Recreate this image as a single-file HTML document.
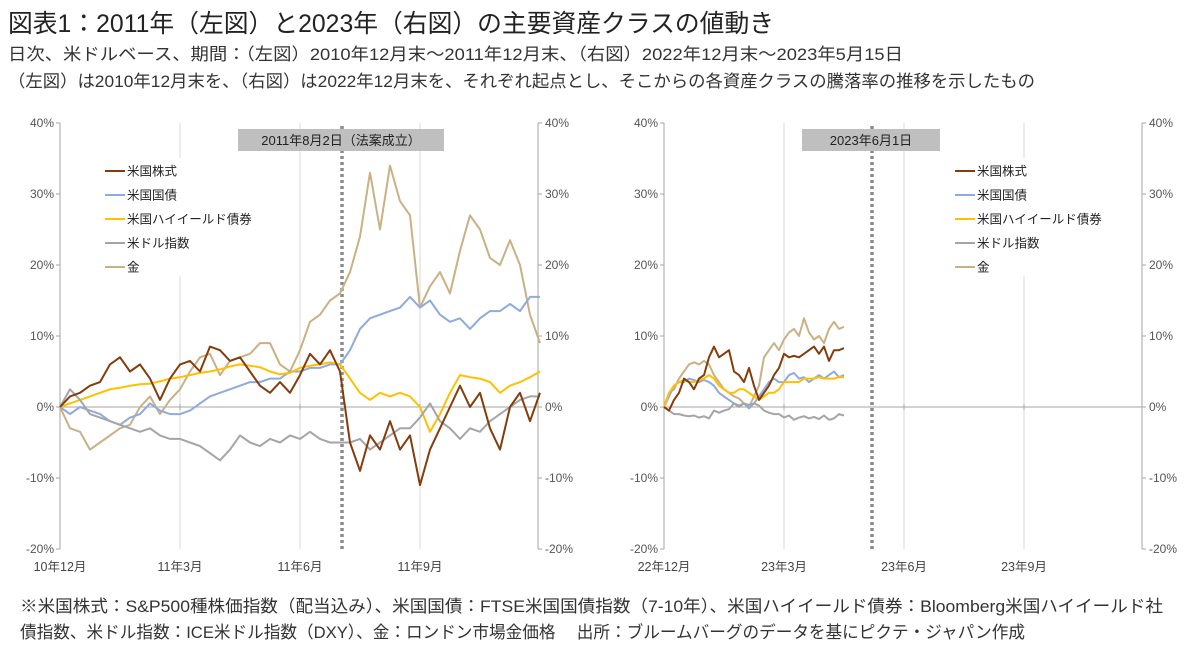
<!DOCTYPE html>
<html><head><meta charset="utf-8"><style>
html,body{margin:0;padding:0;background:#fff;}
svg{display:block;font-family:"Liberation Sans","Noto Sans CJK JP",sans-serif;}
</style></head><body>
<svg id="chart" width="1200" height="653" viewBox="0 0 1200 653" xmlns="http://www.w3.org/2000/svg">
<text x="8" y="32" font-size="25" font-weight="normal" fill="#222" textLength="766" lengthAdjust="spacingAndGlyphs">図表1：2011年（左図）と2023年（右図）の主要資産クラスの値動き</text>
<text x="8" y="60" font-size="17" fill="#333" textLength="895" lengthAdjust="spacingAndGlyphs">日次、米ドルベース、期間：（左図）2010年12月末～2011年12月末、（右図）2022年12月末～2023年5月15日</text>
<text x="8" y="87" font-size="17" fill="#333" textLength="1027" lengthAdjust="spacingAndGlyphs">（左図）は2010年12月末を、（右図）は2022年12月末を、それぞれ起点とし、そこからの各資産クラスの騰落率の推移を示したもの</text>
<text x="20" y="612" font-size="17" fill="#333" textLength="1143" lengthAdjust="spacingAndGlyphs">※米国株式：S&amp;P500種株価指数（配当込み）、米国国債：FTSE米国国債指数（7-10年）、米国ハイイールド債券：Bloomberg米国ハイイールド社</text>
<text x="20" y="638" font-size="17" fill="#333" textLength="1005" lengthAdjust="spacingAndGlyphs">債指数、米ドル指数：ICE米ドル指数（DXY）、金：ロンドン市場金価格　 出所：ブルームバーグのデータを基にピクテ・ジャパン作成</text>
<g id="left"></g>
<g id="right"></g>
</svg>
<script>
// ---- Left chart data (months after 2010-12 end, step 0.25) ----
const leftStocks=[0,1.5,2,3,3.5,6,7,5,6,4,1,4,6,6.5,5,8.5,8,6.5,7,5,3,2,3.5,2,4.5,7.5,6,8,5,-5,-9,-4,-6,-2,-6,-4,-11,-6,-3,0,3,0,2,-3,-6,0,2,-2,2];
const leftBonds=[0,-1,0,-0.5,-1,-2,-2.5,-1.5,-1,0.5,-0.5,-1,-1,-0.5,0.5,1.5,2,2.5,3,3.5,3.5,4,4,5,5,5.5,5.5,6,6,8,11,12.5,13,13.5,14,15.5,14,15,13,12,12.5,11,12.5,13.5,13.5,14.5,13.5,15.5,15.5];
const leftHY=[0,0.5,1,1.5,2,2.5,2.7,3,3.2,3.3,3.6,4,4.2,4.5,4.8,5,5.3,5.7,6,5.8,5.6,5,4.6,4.8,5.5,5.8,6,6.3,6,4,2,1,2,1.5,2,1.5,0,-3.5,-1,2,4.5,4.2,4,3.5,2,3,3.5,4.2,5];
const leftUSD=[0,2.5,1,-1,-1.5,-2,-2.5,-3,-3.5,-3,-4,-4.5,-4.5,-5,-5.5,-6.5,-7.5,-6,-4,-5,-5.5,-4.5,-5,-4,-4.5,-3.5,-4.5,-5,-5,-5,-4.5,-6,-5,-4,-3,-3,-1.5,0.5,-2,-3,-4.5,-3,-3.5,-2,-1,0,1,1.5,1.5];
const leftGold=[0,-3,-3.5,-6,-5,-4,-3,-2.5,0,1.5,-1,1,2.5,5,7,7.5,4.5,6.5,7,7.5,9,9,6,5,8,12,13,15,16,19,24,33,25,34,29,27,14,17,19,16,22,27,25,21,20,23.5,20,13,9];
const leftStep=0.25;
const leftTicks=['10年12月','11年3月','11年6月','11年9月'];
// ---- Right chart data (months after 2022-12 end, step 0.125) ----
const rightStocks=[0,-0.5,1,2,4,3.5,2.5,4,4.5,7,8.5,7,7.5,8,5,4.5,3.5,5.5,3,1,2,3,4.5,5.5,7.5,7,7.2,7,7.5,8,8.5,7.5,8.5,6.5,8,8,8.3];
const rightBonds=[0,1.5,3,3.5,3.5,4,3.8,3.5,3.8,3.5,3,2,1.5,1,0.5,0.2,0.5,-0.2,0.5,1.5,2.5,3.5,4,3.5,3.5,4.5,4.8,4,4.2,3.5,4,4.5,4,4.5,5,4.2,4.5];
const rightHY=[0,2,3,3.5,3.8,3.5,3.5,3.8,4,4.5,4,3,2.5,2,2,2.5,2.5,2,1.5,1,1.5,2,2,2.5,3.5,3.5,3.5,3.5,4,4,4,4.2,4,4,4,4.2,4.2];
const rightUSD=[0,-0.5,-1,-1,-1.2,-1.3,-1.2,-1.5,-1.3,-1.6,-0.5,-0.8,-0.5,-0.3,0.5,0,0.5,0.3,0.5,0.2,-0.5,-0.8,-1,-1,-1.5,-1.2,-1.8,-1.5,-1.3,-1.6,-1.4,-1.7,-1.2,-1.8,-1.6,-1,-1.2];
const rightGold=[0,2,2.5,4,5,6,6.3,6,6.5,6,4.5,3.5,2.5,2,1.5,1.2,0.5,0,1.5,3,7,8,9,8,9.5,10.5,11,10,12.5,10.5,9.5,10,9,11,12,11,11.3];
const rightStep=0.125;
const rightTicks=['22年12月','23年3月','23年6月','23年9月'];
const yTicks=[40,30,20,10,0,-10,-20];
const yTickLabels=['40%','30%','20%','10%','0%','-10%','-20%'];
const seriesNames=['米国株式','米国国債','米国ハイイールド債券','米ドル指数','金'];
const colors=['#843c0c','#8faadc','#ffc000','#a5a5a5','#c9b183'];
const NS='http://www.w3.org/2000/svg';
function mk(tag,attrs,parent){const e=document.createElementNS(NS,tag);for(const k in attrs)e.setAttribute(k,attrs[k]);parent.appendChild(e);return e;}
const yTop=123,yBot=549;
function yScale(v){return yTop+(40-v)/60*(yBot-yTop);}
function drawChart(g,x0,x1,series,step,ticks,dashT,boxX,boxW,boxText,legX,name){
  const xScale=t=>x0+t*40;
  for(let i=1;i<=3;i++){
    const l=mk('line',{x1:xScale(i*3),x2:xScale(i*3),y1:yTop,y2:yBot,stroke:'#d9d9d9','stroke-width':1},g);
    
    
  }
  const la=mk('line',{x1:x0,x2:x0,y1:yTop,y2:yBot,stroke:'#a6a6a6'},g);
  
  
  const ra=mk('line',{x1:x1,x2:x1,y1:yTop,y2:yBot,stroke:'#a6a6a6'},g);
  
  
  const za=mk('line',{x1:x0,x2:x1,y1:yScale(0),y2:yScale(0),stroke:'#a6a6a6'},g);
  
  
  yTicks.forEach((v,i)=>{
    const y=yScale(v);
    mk('line',{x1:x0-4,x2:x0,y1:y,y2:y,stroke:'#a6a6a6'},g);
    mk('line',{x1:x1,x2:x1+4,y1:y,y2:y,stroke:'#a6a6a6'},g);
    const t1=mk('text',{x:x0-6,y:y+4,'font-size':12,fill:'#555','text-anchor':'end'},g);t1.textContent=yTickLabels[i];
    
    
    const t2=mk('text',{x:x1+7,y:y+4,'font-size':12,fill:'#555'},g);t2.textContent=yTickLabels[i];
    
    
  });
  ticks.forEach((s,i)=>{
    const x=xScale(i*3);
    mk('line',{x1:x,x2:x,y1:yScale(0)-3,y2:yScale(0)+3,stroke:'#a6a6a6'},g);
    const t=mk('text',{x:x,y:571,'font-size':12.5,fill:'#444','text-anchor':'middle'},g);t.textContent=s;
    
    
  });
  const d=mk('line',{x1:xScale(dashT),x2:xScale(dashT),y1:yTop+3,y2:yBot,stroke:'#8c8c8c','stroke-width':3.5,'stroke-dasharray':'3 3'},g);
  
  
  const br=mk('rect',{x:boxX,y:129,width:boxW,height:22,fill:'#bfbfbf'},g);
  
  
  const bt=mk('text',{x:boxX+boxW/2,y:145,'font-size':13,fill:'#222','text-anchor':'middle'},g);bt.textContent=boxText;
  
  
  const lb=mk('rect',{x:legX-6,y:158,width:150,height:118,fill:'#fff'},g);
  
  
  seriesNames.forEach((s,i)=>{
    const y=171+i*24;
    const ll=mk('line',{x1:legX,x2:legX+20,y1:y,y2:y,stroke:colors[i],'stroke-width':2},g);
    
    
    const lt=mk('text',{x:legX+22,y:y+4.5,'font-size':12.5,fill:'#222'},g);lt.textContent=s;
    
    
  });
  [4,1,2,3,0].forEach(si=>{
    const arr=series[si];
    const pts=arr.map((v,i)=>xScale(i*step).toFixed(1)+','+yScale(v).toFixed(1)).join(' ');
    const p=mk('polyline',{points:pts,fill:'none',stroke:colors[si],'stroke-width':2,'stroke-linejoin':'round'},g);
    
    
  });
}
drawChart(document.getElementById('left'),60,538,[leftStocks,leftBonds,leftHY,leftUSD,leftGold],leftStep,leftTicks,7.05,238,206,'2011年8月2日（法案成立）',105,'left-chart');
drawChart(document.getElementById('right'),664,1142,[rightStocks,rightBonds,rightHY,rightUSD,rightGold],rightStep,rightTicks,5.2,802,138,'2023年6月1日',955,'right-chart');
</script>
</body></html>
